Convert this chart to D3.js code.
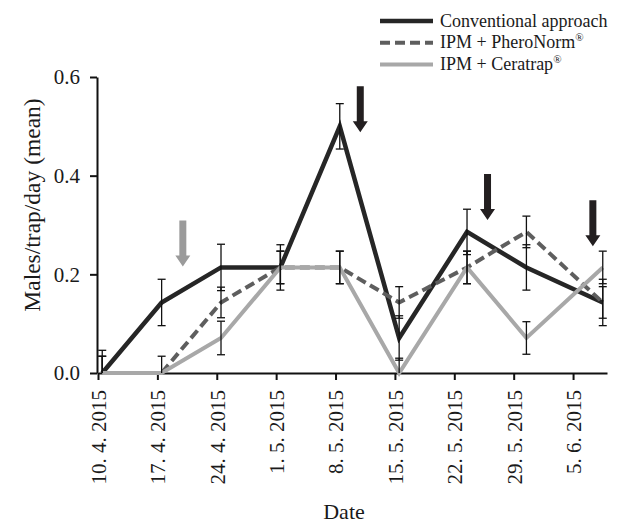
<!DOCTYPE html>
<html>
<head>
<meta charset="utf-8">
<script src="https://cdn.jsdelivr.net/npm/d3@7"></script>
<style>
  body { margin: 0; background: #fff; }
  svg { display: block; }
  text { font-family: "Liberation Serif", "Times New Roman", serif; fill: #1a1a1a; }
</style>
</head>
<body>
<svg id="chart"></svg>
<script>
// sampling dates (points sit at noon of each day)
var sampleDates = ["2015-04-10", "2015-04-17", "2015-04-24", "2015-05-01", "2015-05-08",
                   "2015-05-15", "2015-05-23", "2015-05-30", "2015-06-08"];
var tickDates = ["2015-04-10", "2015-04-17", "2015-04-24", "2015-05-01", "2015-05-08",
                 "2015-05-15", "2015-05-22", "2015-05-29", "2015-06-05"];
var yTicks = [0, 0.2, 0.4, 0.6];

var seriesNames = ["Conventional approach", "IPM + PheroNorm", "IPM + Ceratrap"];
var seriesMarks = ["", "\u00AE", "\u00AE"];

var conventional    = [0, 0.143, 0.214, 0.214, 0.5, 0.071, 0.286, 0.214, 0.143];
var conventionalErr = [0.046, 0.047, 0.047, 0.046, 0.046, 0.045, 0.046, 0.046, 0.047];
var pheroNorm       = [0, 0, 0.143, 0.214, 0.214, 0.143, 0.214, 0.286, 0.143];
var pheroNormErr    = [0.034, 0.034, 0.031, 0.033, 0.033, 0.032, 0.033, 0.032, 0.032];
var ceratrap        = [0, 0, 0.071, 0.214, 0.214, 0, 0.214, 0.071, 0.214];
var ceratrapErr     = [0.034, 0, 0.034, 0.033, 0.033, 0.03, 0.033, 0.033, 0.033];

// treatment arrows: date/hour, value at the tip, kind
var arrowDates = ["2015-04-20 00", "2015-05-10 22", "2015-05-25 22", "2015-06-07 08"];
var arrowTips  = [0.216, 0.488, 0.31, 0.257];
var arrowKinds = ["trap", "spray", "spray", "spray"];

var w = 626;
var h = 526;
var parseDay = d3.timeParse("%Y-%m-%d");
var parseHour = d3.timeParse("%Y-%m-%d %H");

var svg = d3.select("#chart")
    .attr("width", w)
    .attr("height", h);

var x = d3.scaleTime()
    .domain([parseDay("2015-04-10"), parseDay("2015-06-09")])
    .range([98, 607]);
var y = d3.scaleLinear()
    .domain([0, 0.6])
    .range([373, 77]);

function xPoint(i) {
    return x(d3.timeHour.offset(parseDay(sampleDates[i]), 12));
}

var series = [
    { values: conventional, err: conventionalErr, color: "#262626", width: 4.5, dash: null },
    { values: pheroNorm, err: pheroNormErr, color: "#5e5e5e", width: 4, dash: "10,5" },
    { values: ceratrap, err: ceratrapErr, color: "#a8a8a8", width: 4, dash: null }
];

// axes
var xAxis = svg.append("g")
    .attr("transform", "translate(0," + y(0) + ")")
    .call(d3.axisBottom(x)
        .tickValues(tickDates.map(parseDay))
        .tickSize(7)
        .tickSizeOuter(0)
        .tickFormat(d3.timeFormat("%-d. %-m. %Y")));
xAxis.select(".domain").attr("stroke-width", 2).attr("stroke", "#111");
xAxis.selectAll(".tick line").attr("stroke-width", 2).attr("stroke", "#111");
xAxis.selectAll(".tick text")
    .attr("transform", "rotate(-90)")
    .attr("x", -17)
    .attr("y", 0)
    .attr("dy", "0.35em")
    .attr("text-anchor", "end")
    .attr("font-size", 21)
    .attr("fill", "#1a1a1a");

var yAxis = svg.append("g")
    .attr("transform", "translate(97,0)")
    .call(d3.axisLeft(y)
        .tickValues(yTicks)
        .tickSize(7)
        .tickSizeOuter(0)
        .tickPadding(10)
        .tickFormat(d3.format(".1f")));
yAxis.select(".domain").attr("stroke-width", 2).attr("stroke", "#111");
yAxis.selectAll(".tick line").attr("stroke-width", 2).attr("stroke", "#111");
yAxis.selectAll(".tick text")
    .attr("font-size", 21)
    .attr("fill", "#1a1a1a");

svg.append("text")
    .attr("transform", "translate(40,205) rotate(-90)")
    .attr("text-anchor", "middle")
    .attr("font-size", 23.5)
    .text("Males/trap/day (mean)");

svg.append("text")
    .attr("x", 344)
    .attr("y", 519)
    .attr("text-anchor", "middle")
    .attr("font-size", 22)
    .text("Date");

// lines
var line = d3.line()
    .x(function(d, i) { return xPoint(i); })
    .y(function(d) { return y(d); });

series.forEach(function(s) {
    svg.append("path")
        .attr("d", line(s.values))
        .attr("fill", "none")
        .attr("stroke", s.color)
        .attr("stroke-width", s.width)
        .attr("stroke-dasharray", s.dash)
        .attr("stroke-linejoin", "miter");
});

// error bars
series.forEach(function(s) {
    s.values.forEach(function(v, i) {
        if (!s.err[i]) return;
        var cx = xPoint(i);
        var top = y(v + s.err[i]);
        var low = v - s.err[i];
        var bottom = y(Math.max(0, low));
        var g = svg.append("g")
            .attr("stroke", "#111")
            .attr("stroke-width", 1.3);
        g.append("line").attr("x1", cx).attr("x2", cx).attr("y1", top).attr("y2", bottom);
        g.append("line").attr("x1", cx - 4).attr("x2", cx + 4).attr("y1", top).attr("y2", top);
        if (low > 0) {
            g.append("line").attr("x1", cx - 4).attr("x2", cx + 4).attr("y1", bottom).attr("y2", bottom);
        }
    });
});

// arrows
function arrowPath(cx, tip) {
    return "M" + (cx - 3.5) + "," + (tip - 46) +
        "H" + (cx + 3.5) + "V" + (tip - 11) +
        "H" + (cx + 7.5) + "L" + cx + "," + tip +
        "L" + (cx - 7.5) + "," + (tip - 11) +
        "H" + (cx - 3.5) + "Z";
}

arrowDates.forEach(function(d, i) {
    svg.append("path")
        .attr("d", arrowPath(x(parseHour(d)), y(arrowTips[i])))
        .attr("fill", arrowKinds[i] == "trap" ? "#9b9b9b" : "#231f20");
});

// legend
var legend = svg.append("g");
series.forEach(function(s, i) {
    var ly = 21 + i * 21.7;
    legend.append("line")
        .attr("x1", 380)
        .attr("x2", 433)
        .attr("y1", ly)
        .attr("y2", ly)
        .attr("stroke", s.color)
        .attr("stroke-width", s.width)
        .attr("stroke-dasharray", s.dash);
    var t = legend.append("text")
        .attr("x", 440)
        .attr("y", ly)
        .attr("dy", "0.32em")
        .attr("font-size", 18);
    t.append("tspan").text(seriesNames[i]);
    if (seriesMarks[i]) {
        t.append("tspan")
            .attr("dy", -7)
            .attr("font-size", 11)
            .text(seriesMarks[i]);
    }
});
</script>
</body>
</html>
